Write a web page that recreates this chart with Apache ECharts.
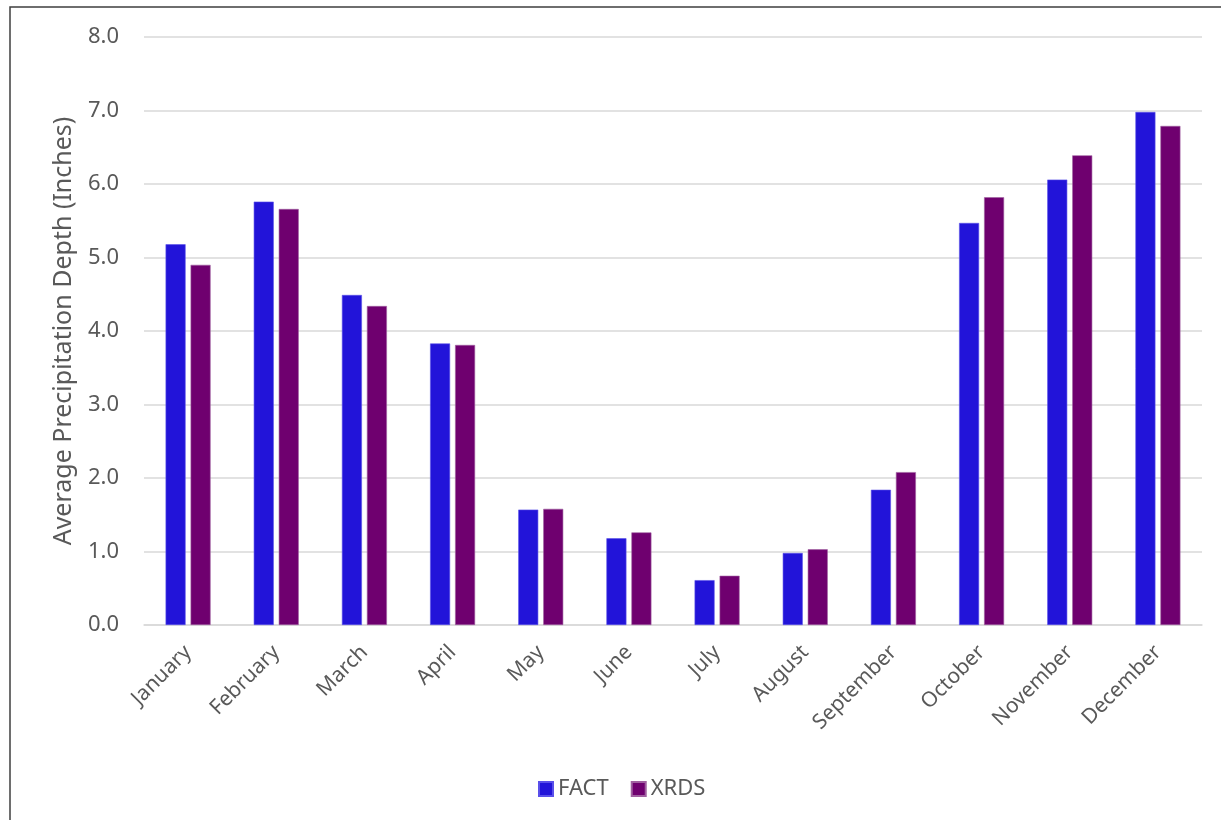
<!DOCTYPE html>
<html><head><meta charset="utf-8">
<script src="https://cdn.jsdelivr.net/npm/echarts@6/dist/echarts.min.js"></script>
<style>html,body{margin:0;padding:0;background:#fff}#c{width:1221px;height:820px}</style>
</head><body><div id="c"></div>
<script>
const months = ['January','February','March','April','May','June','July','August','September','October','November','December'];
const fact = [5.18, 5.76, 4.49, 3.83, 1.57, 1.18, 0.61, 0.98, 1.84, 5.47, 6.06, 6.98];
const xrds = [4.90, 5.66, 4.34, 3.81, 1.58, 1.26, 0.67, 1.03, 2.08, 5.82, 6.39, 6.79];
const yTicks = {min: 0, max: 8, interval: 1};
const chart = echarts.init(document.getElementById('c'), null, {renderer: 'canvas'});
const font = '"Noto Sans", sans-serif';
chart.setOption({
  animation: false,
  textStyle: {fontFamily: font},
  graphic: [{type: 'rect', shape: {x: 10, y: 7, width: 1240, height: 850}, style: {fill: 'none', stroke: '#3f3f3f', lineWidth: 1.5}, silent: true}],
  grid: {left: 144, right: 19, top: 37, bottom: 195},
  legend: {
    left: 533, top: 773, itemWidth: 14, itemHeight: 14, itemGap: 22,
    icon: 'rect',
    textStyle: {fontSize: 22, color: '#595959', fontFamily: font},
    data: ['FACT', 'XRDS']
  },
  xAxis: {
    type: 'category', data: months,
    axisLine: {lineStyle: {color: '#d9d9d9', width: 1.5}},
    axisTick: {show: false},
    axisLabel: {rotate: 45, fontSize: 21, color: '#595959', margin: 24, interval: 0}
  },
  yAxis: {
    type: 'value', min: yTicks.min, max: yTicks.max, interval: yTicks.interval,
    name: 'Average Precipitation Depth (Inches)', nameLocation: 'middle', nameGap: 68,
    nameTextStyle: {fontSize: 25, color: '#595959'},
    axisLine: {show: false}, axisTick: {show: false},
    axisLabel: {fontSize: 22, color: '#595959', margin: 25, formatter: v => v.toFixed(1)},
    splitLine: {lineStyle: {color: '#d9d9d9', width: 1.5}}
  },
  series: [
    {name: 'FACT', type: 'bar', data: fact, barWidth: 20, barGap: '25%',
     itemStyle: {color: '#2214d9', borderColor: '#5a50ea', borderWidth: 0.6}},
    {name: 'XRDS', type: 'bar', data: xrds, barWidth: 20,
     itemStyle: {color: '#6f006f', borderColor: '#a060a0', borderWidth: 0.6}}
  ]
});
</script></body></html>
